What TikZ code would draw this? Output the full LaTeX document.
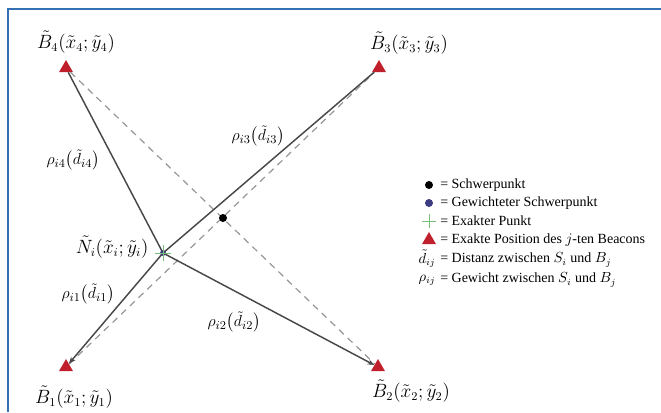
\documentclass[tikz,border=0pt]{standalone}
\usepackage{fontspec}
\setmainfont{Liberation Serif}
\usepackage{amsmath}
\usepackage{xcolor}
\usetikzlibrary{arrows.meta, positioning, shapes.geometric}

\definecolor{frameblue}{RGB}{52,112,180}
\definecolor{beaconred}{RGB}{192,32,44}
\definecolor{lineg}{RGB}{72,72,72}
\definecolor{dashg}{RGB}{150,150,150}
\definecolor{plusgreen}{RGB}{120,190,120}
\definecolor{wdot}{RGB}{60,60,130}

\begin{document}
\begin{tikzpicture}[
    x=0.75pt, y=-0.75pt,
    beacon/.style={regular polygon, regular polygon sides=3, fill=beaconred, draw=none, minimum size=12pt, inner sep=0pt},
    coord/.style={font=\fontsize{13.5}{15}\selectfont, inner sep=1pt},
    wlabel/.style={font=\fontsize{12.5}{14}\selectfont, inner sep=1pt},
    legtext/.style={font=\fontsize{10.5}{12}\selectfont, anchor=west, inner sep=0pt},
    ray/.style={draw=lineg, line width=1.1pt},
    est/.style={draw=dashg, line width=0.9pt, dash pattern=on 5pt off 4pt}
]
    \useasboundingbox (0,0) rectangle (661,412);
    % Frame (only top and left edge are visible)
    \draw[frameblue, line width=1.6pt] (8,412) -- (8,9) -- (661,9);

    % Beacons
    \node[beacon] (B4) at (66,68) {};
    \node[beacon] (B3) at (379,68) {};
    \node[beacon] (B1) at (66,367) {};
    \node[beacon] (B2) at (378,367) {};
    \coordinate (N) at (163,253);
    \coordinate (S) at (223,218);

    % Beacon labels
    \node[coord] (LB4) at (76,42) {$\tilde{B}_4(\tilde{x}_4;\tilde{y}_4)$};
    \node[coord] (LB3) at (409,43) {$\tilde{B}_3(\tilde{x}_3;\tilde{y}_3)$};
    \node[coord] (LB1) at (74,397) {$\tilde{B}_1(\tilde{x}_1;\tilde{y}_1)$};
    \node[coord] (LB2) at (411,391) {$\tilde{B}_2(\tilde{x}_2;\tilde{y}_2)$};
    \node[coord, anchor=east] (LN) at (150,247) {$\tilde{N}_i(\tilde{x}_i;\tilde{y}_i)$};

    % Diagonals through the centroid
    \draw[est] (B4) -- (B2);
    \draw[est] (B1) -- (B3);

    % Distances from the node to the beacons
    \draw[ray] (N) -- (B4);
    \draw[ray] (N) -- (B3);
    \draw[ray, -{Stealth[length=5pt, width=4pt]}] (N) -- (B1);
    \draw[ray, -{Stealth[length=5pt, width=4pt]}] (N) -- (B2);

    % Weights
    \node[wlabel] (W4) at (73,160) {$\rho_{i4}\big(\tilde{d}_{i4}\big)$};
    \node[wlabel] (W3) at (258,136) {$\rho_{i3}\big(\tilde{d}_{i3}\big)$};
    \node[wlabel] (W1) at (88,294) {$\rho_{i1}\big(\tilde{d}_{i1}\big)$};
    \node[wlabel] (W2) at (234,322) {$\rho_{i2}\big(\tilde{d}_{i2}\big)$};

    % Centroid and exact point
    \fill[black] (S) circle (3pt);
    \fill[wdot] (N) circle (2.2pt);
    \draw[plusgreen, line width=0.6pt] ([xshift=-6pt]N) -- ([xshift=6pt]N) ([yshift=-6pt]N) -- ([yshift=6pt]N);

    % Legend
    \fill[black] (429,185) circle (3pt);
    \node[legtext] (L1) at (440,185) {= Schwerpunkt};
    \fill[wdot] (429,203) circle (3pt);
    \node[legtext] (L2) at (440,203) {= Gewichteter Schwerpunkt};
    \draw[plusgreen, line width=0.6pt] (422,221) -- (436,221) (429,214) -- (429,228);
    \node[legtext] (L3) at (440,221) {= Exakter Punkt};
    \node[beacon] (LT) at (429,240) {};
    \node[legtext] (L4) at (440,240) {= Exakte Position des $j$-ten Beacons};
    \node[legtext, anchor=center] (LD) at (427,259) {$\tilde{d}_{ij}$};
    \node[legtext] (L5) at (440,260) {= Distanz zwischen $S_i$ und $B_j$};
    \node[legtext, anchor=center] (LR) at (427,280) {$\rho_{ij}$};
    \node[legtext] (L6) at (440,280) {= Gewicht zwischen $S_i$ und $B_j$};
\end{tikzpicture}
\end{document}
